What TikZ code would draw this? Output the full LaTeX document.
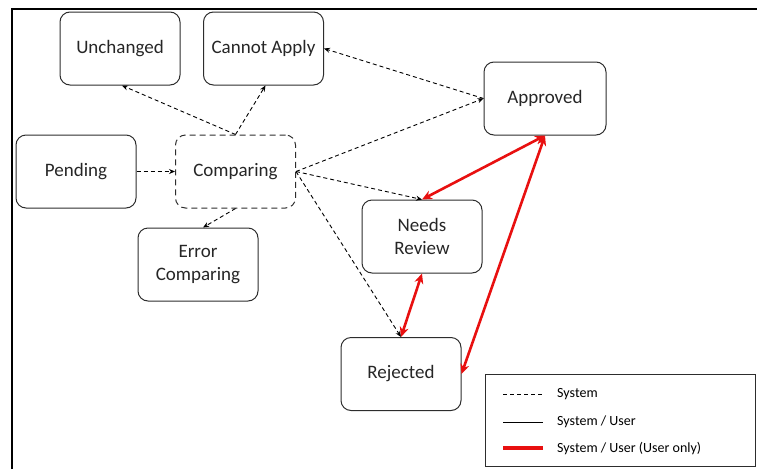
\documentclass[tikz,border=0pt]{standalone}
\usepackage{fontspec}
\setmainfont{Carlito}
\usetikzlibrary{arrows.meta}

\definecolor{usrred}{RGB}{232,16,16}
\definecolor{boxgray}{RGB}{45,45,45}

\tikzset{
  state/.style={draw=boxgray, line width=1pt, rounded corners=10pt, minimum width=120pt,
    minimum height=73pt, align=center, inner sep=2pt,
    font=\fontsize{19}{23}\selectfont, text=black!85},
  sysline/.style={dash pattern=on 4pt off 3pt, line width=0.9pt},
  sys/.style={sysline, -{Stealth[length=6pt,width=5pt]}},
  usr/.style={usrred, line width=2.6pt,
    {Stealth[length=10pt,width=9pt]}-{Stealth[length=10pt,width=9pt]}},
  legtext/.style={anchor=west, inner sep=0pt, font=\fontsize{14}{16}\selectfont}
}

\begin{document}
\begin{tikzpicture}[x=1pt,y=-1pt]
  \useasboundingbox (0,0) rectangle (757,469);

  % frame of the screenshot
  \draw[line width=2.4pt] (12,469) -- (12,9) -- (757,9);

  % states
  \node[state] (unchanged) at (120,48.5) {Unchanged};
  \node[state] (cannot) at (263.5,48.5) {Cannot Apply};
  \node[state] (pending) at (76,171.5) {Pending};
  \node[state, dash pattern=on 6pt off 4pt] (comparing) at (235.5,171.5) {Comparing};
  \node[state] (errcmp) at (198,264.5) {Error\\Comparing};
  \node[state, minimum width=122pt] (approved) at (545,98.5) {Approved};
  \node[state] (review) at (422,236.5) {Needs\\Review};
  \node[state] (rejected) at (401,374) {Rejected};

  % system transitions
  \draw[sys] (pending) -- (comparing);
  \draw[sys] (comparing.north) -- ([xshift=2pt]unchanged.south);
  \draw[sys] (comparing.north) -- ([xshift=2pt]cannot.south);
  \draw[sys] (comparing.south) -- ([xshift=5pt]errcmp.north);
  \draw[sys] (comparing.east) -- (approved.west);
  \draw[sys] (approved.west) -- (cannot.east);
  \draw[sys] (comparing.east) -- (review.north);
  \draw[sys] (comparing.east) -- (rejected.north);

  % user only transitions
  \draw[usr] (review.north) -- (approved.south);
  \draw[usr] (review.south) -- (rejected.north);
  \draw[usr] (approved.south) -- (rejected.east);

  % legend
  \draw[boxgray, line width=1pt] (485,374) rectangle (755.5,466.5);
  \coordinate (la1) at (503,394);  \coordinate (lb1) at (543,394);
  \coordinate (la2) at (503,422);  \coordinate (lb2) at (543,422);
  \coordinate (la3) at (503,448);  \coordinate (lb3) at (543,448);
  \draw[sysline] (la1) -- (lb1);
  \draw[line width=0.9pt] (la2) -- (lb2);
  \draw[usrred, line width=4pt] (la3) -- (lb3);
  \node[legtext] (legsys) at (557,394) {System};
  \node[legtext] (legboth) at (557,422) {System / User};
  \node[legtext] (legusr) at (557,448) {System / User (User only)};
\end{tikzpicture}
\end{document}
